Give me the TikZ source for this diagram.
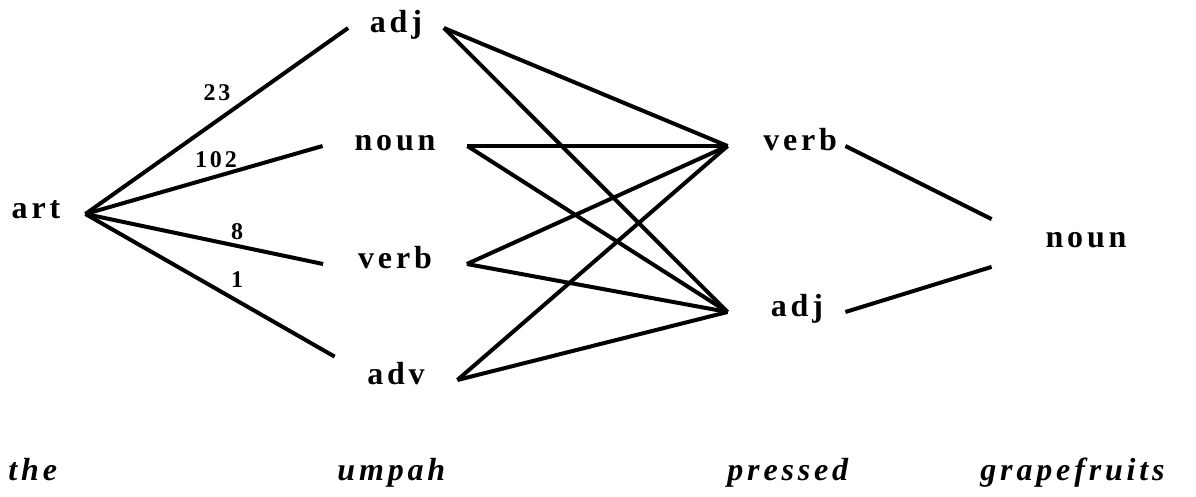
\documentclass[tikz,border=0pt]{standalone}
\usepackage{fontspec}
\setmainfont{Liberation Serif}[LetterSpace=12]
\begin{document}
\begin{tikzpicture}[x=0.5pt,y=0.5pt,yscale=-1,xscale=1,
    tag/.style={inner sep=0pt, font=\bfseries\fontsize{16}{18}\selectfont, text height=0.7em, text depth=0.25em},
    rtag/.style={tag, align=right},
    num/.style={inner sep=0pt, font=\bfseries\fontsize{12}{14}\selectfont},
    word/.style={anchor=base west, inner sep=0pt, font=\bfseries\itshape\fontsize{16}{18}\selectfont},
    link/.style={line width=2pt}]
                \useasboundingbox (0,0) rectangle (1196,497);
                % Text Node
                \draw (36,214) node [tag, minimum width=49pt] (art) {art};
                % Text Node
                \draw (396,28) node [tag, minimum width=47.5pt] (adjA) {adj};
                % Text Node
                \draw (395,146) node [tag, minimum width=72pt] (nounA) {noun};
                % Text Node
                \draw (395,264) node [tag, minimum width=71.5pt] (verbA) {verb};
                % Text Node
                \draw (396,380) node [tag, minimum width=61pt, minimum height=23pt] (advA) {adv};
                % Text Node
                \draw (786.5,146) node [rtag, text width=50.5pt, inner xsep=4pt] (verbB) {verb};
                % Text Node
                \draw (786.5,312) node [rtag, text width=36.5pt, inner xsep=11pt] (adjB) {adj};
                % Text Node
                \draw (1086,243) node [tag, minimum width=94pt, minimum height=23.5pt] (nounC) {noun};

                %Straight Lines
                \draw [link] (art.east) -- (adjA.west);
                \draw [link] (art.east) -- (nounA.west);
                \draw [link] (art.east) -- (verbA.west);
                \draw [link] (art.east) -- (advA.north west);
                %Straight Lines
                \foreach \src in {adjA,nounA,verbA,advA}
                  \foreach \dst in {verbB,adjB}
                    \draw [link] (\src.east) -- (\dst.west);
                %Straight Lines
                \draw [link] (verbB.east) -- (nounC.north west);
                \draw [link] (adjB.east) -- (nounC.south west);

                % Text Node
                \draw (217,93) node [num] (n23) {23};
                % Text Node
                \draw (216,160) node [num] (n102) {102};
                % Text Node
                \draw (237,232) node [num] (n8) {8};
                % Text Node
                \draw (237,280) node [num] (n1) {1};

                % Text Node
                \draw (8,481) node [word] (wThe) {the};
                % Text Node
                \draw (337,481) node [word] (wUmpah) {umpah};
                % Text Node
                \draw (727,481) node [word] (wPressed) {pressed};
                % Text Node
                \draw (980,481) node [word] (wGrape) {grapefruits};
\end{tikzpicture}
\end{document}
